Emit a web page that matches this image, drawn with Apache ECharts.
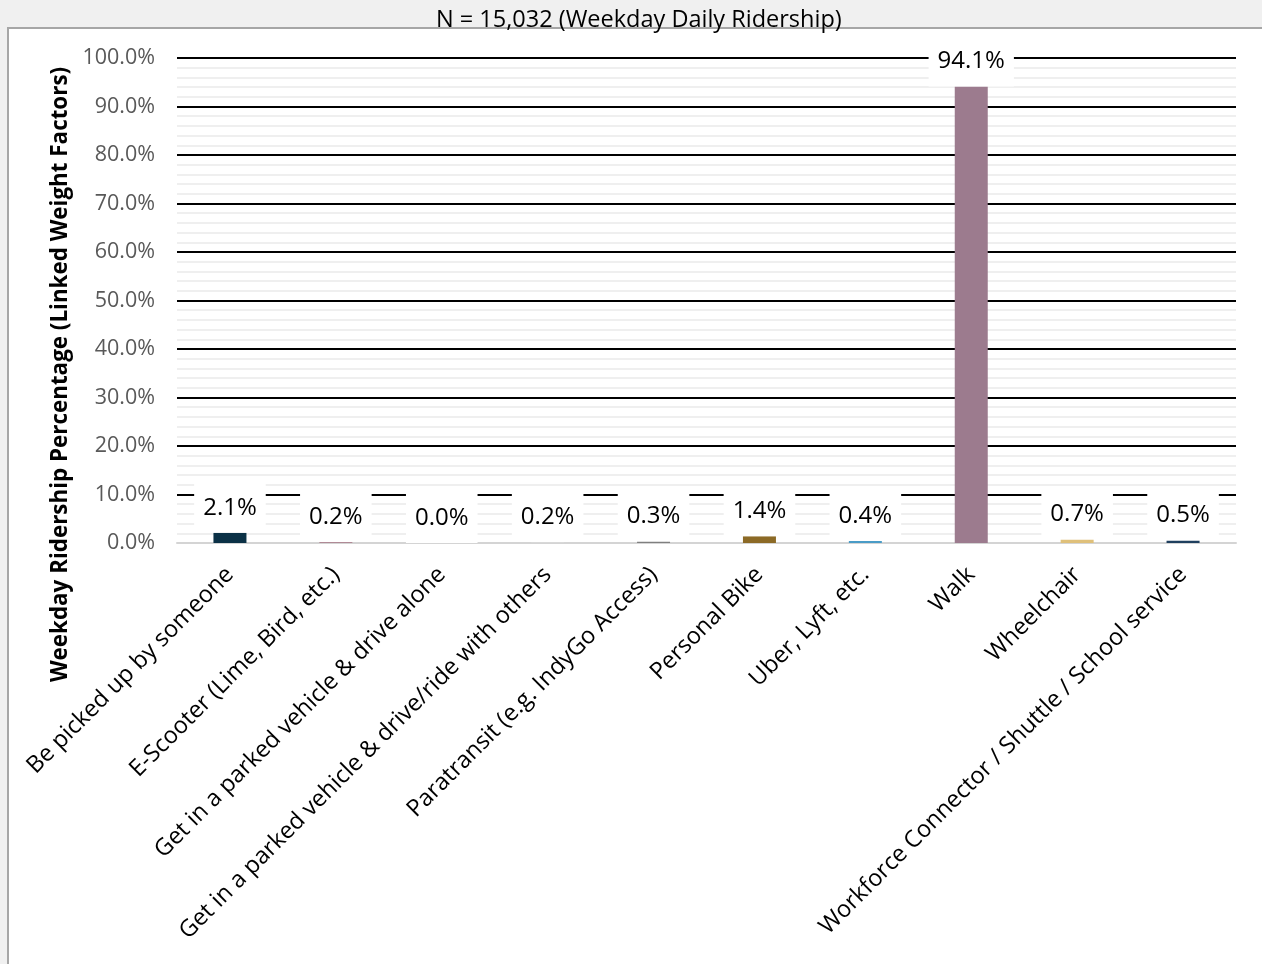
<!DOCTYPE html>
<html>
<head>
<meta charset="utf-8">
<script src="https://cdn.jsdelivr.net/npm/echarts@6/dist/echarts.min.js"></script>
<style>
html,body{margin:0;padding:0;background:#f0f0f0;}
#c{width:1262px;height:964px;}
</style>
</head>
<body>
<div id="c"></div>
<script>
const categories = ['Be picked up by someone','E-Scooter (Lime, Bird, etc.)','Get in a parked vehicle & drive alone','Get in a parked vehicle & drive/ride with others','Paratransit (e.g. IndyGo Access)','Personal Bike','Uber, Lyft, etc.','Walk','Wheelchair','Workforce Connector / Shuttle / School service'];
const values = [2.1, 0.2, 0.0, 0.2, 0.3, 1.4, 0.4, 94.1, 0.7, 0.5];
const barColors = ['#0b3146','#b08a96','#9a9a9a','#d8d8d8','#7f7f7f','#8c6a26','#4a9cc7','#9c7b8e','#dfc07a','#1f3f5e'];
const titleText = 'N = 15,032 (Weekday Daily Ridership)';
const yAxisName = 'Weekday Ridership Percentage (Linked Weight Factors)';

const FONT = '"Open Sans", sans-serif';
const chart = echarts.init(document.getElementById('c'));
chart.setOption({
  backgroundColor: '#f0f0f0',
  animation: false,
  title: {
    text: titleText, left: 431, top: 3,
    textStyle: {fontFamily: FONT, fontSize: 23.5, fontWeight: 'normal', color: '#000'}
  },
  graphic: [{
    type: 'rect', z: -10, silent: true,
    shape: {x: 8, y: 28, width: 1300, height: 1000},
    style: {fill: '#ffffff', stroke: '#a6a6a6', lineWidth: 2}
  }],
  grid: {left: 177, right: 26, top: 58, bottom: 421},
  xAxis: {
    type: 'category', data: categories,
    axisTick: {show: false},
    axisLine: {show: true, lineStyle: {color: '#d4d4d4', width: 2}},
    axisLabel: {rotate: 45, interval: 0, margin: 28, fontFamily: FONT, fontSize: 23.5, color: '#000'}
  },
  yAxis: {
    type: 'value', min: 0, max: 100, interval: 10,
    name: yAxisName, nameLocation: 'middle', nameGap: 105, nameRotate: 90,
    nameTextStyle: {fontFamily: FONT, fontSize: 22.4, fontWeight: 'bold', color: '#000', padding: [0, 148, 0, 0]},
    axisLabel: {formatter: v => v.toFixed(1) + '%', fontFamily: FONT, fontSize: 21.5, color: '#595959', margin: 22},
    axisLine: {show: false}, axisTick: {show: false},
    splitLine: {show: true, lineStyle: {color: '#000', width: 2}},
    minorTick: {show: false, splitNumber: 5},
    minorSplitLine: {show: true, lineStyle: {color: '#efefef', width: 2}}
  },
  series: [{
    type: 'bar', barWidth: 33,
    data: values.map((v, i) => ({value: v, itemStyle: {color: barColors[i]}})),
    label: {
      show: true, position: 'top', distance: 0,
      formatter: p => p.value.toFixed(1) + '%',
      fontFamily: FONT, fontSize: 24, color: '#000',
      backgroundColor: '#ffffff', padding: [13, 9, 13, 9]
    }
  }]
});
</script>
</body>
</html>
